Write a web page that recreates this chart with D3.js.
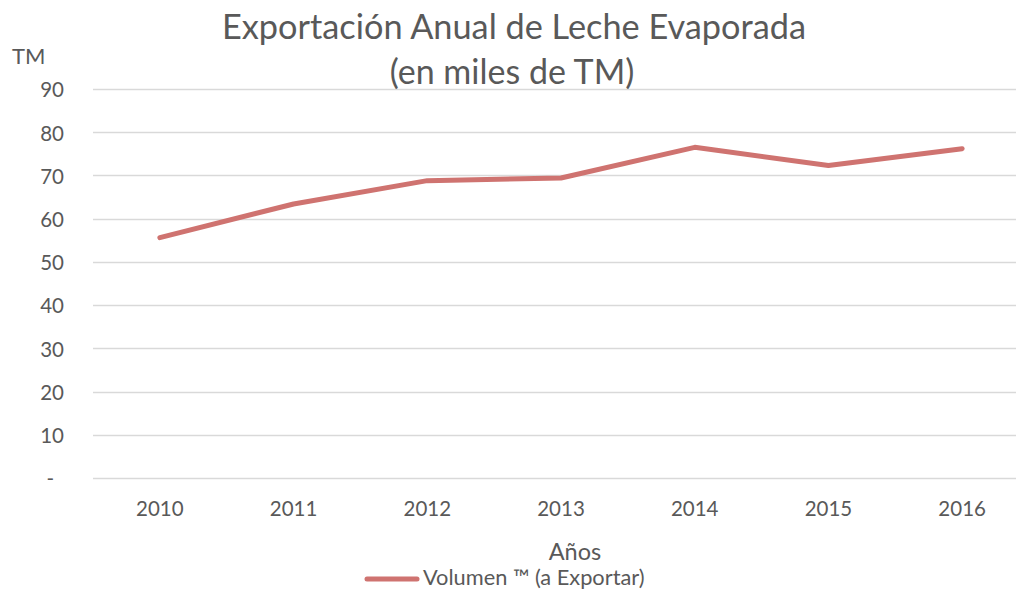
<!DOCTYPE html>
<html><head><meta charset="utf-8">
<script src="https://cdn.jsdelivr.net/npm/d3@7"></script>
<style>body{margin:0;background:#fff}svg{display:block}text{font-family:Lato,"Open Sans",sans-serif;fill:#595959}</style>
</head><body><svg id="c" width="1016" height="590"></svg>
<script>
const years = ["2010","2011","2012","2013","2014","2015","2016"];
const volumen = [55.6, 63.4, 68.8, 69.4, 76.5, 72.3, 76.2];
const yTicks = [0,10,20,30,40,50,60,70,80,90];
const yTickLabels = ["-","10","20","30","40","50","60","70","80","90"];
const seriesName = "Volumen \u2122 (a Exportar)";

const svg = d3.select("#c");
const x = d3.scaleBand().domain(years).range([93, 1029]);
const y = d3.scaleLinear().domain([0, 90]).range([478, 89]);

svg.append("g").selectAll("line").data(yTicks).join("line")
  .attr("x1", 93).attr("x2", 1029)
  .attr("y1", d => Math.round(y(d)) + 0.5).attr("y2", d => Math.round(y(d)) + 0.5)
  .attr("stroke", "#d9d9d9").attr("stroke-width", 1.3);

const yAxis = d3.axisLeft(y).tickValues(yTicks).tickFormat((d,i) => yTickLabels[i]).tickSize(0).tickPadding(0);
const ga = svg.append("g").attr("transform", "translate(64,0)").call(yAxis);
ga.select(".domain").remove();
ga.selectAll("text").style("font-size","20.5px").attr("fill","#595959").attr("dy","0.38em")
  .attr("dx", d => d === 0 ? -10 : 0);

const xAxis = d3.axisBottom(x).tickSize(0).tickPadding(0);
const gx = svg.append("g").attr("transform", "translate(0,516)").call(xAxis);
gx.select(".domain").remove();
gx.selectAll("text").style("font-size","20.5px").attr("fill","#595959").attr("dy","0");

const line = d3.line().x((d,i) => x(years[i]) + x.bandwidth()/2).y(d => y(d));
svg.append("path").datum(volumen).attr("d", line)
  .attr("fill","none").attr("stroke","#cf7370").attr("stroke-width",5)
  .attr("stroke-linecap","round").attr("stroke-linejoin","round");

svg.append("text").attr("x",514).attr("y",39).attr("text-anchor","middle").style("font-size","34.3px").text("Exportación Anual de Leche Evaporada");
svg.append("text").attr("x",512).attr("y",84).attr("text-anchor","middle").style("font-size","34px").text("(en miles de TM)");
svg.append("text").attr("x",12).attr("y",64).style("font-size","22px").text("TM");
svg.append("text").attr("x",575).attr("y",560).attr("text-anchor","middle").style("font-size","23.5px").text("Años");

svg.append("line").attr("x1",367).attr("x2",417).attr("y1",579).attr("y2",579)
  .attr("stroke","#cf7370").attr("stroke-width",5).attr("stroke-linecap","round");
svg.append("text").attr("x",423).attr("y",585).style("font-size","21.8px").text(seriesName);
</script></body></html>
